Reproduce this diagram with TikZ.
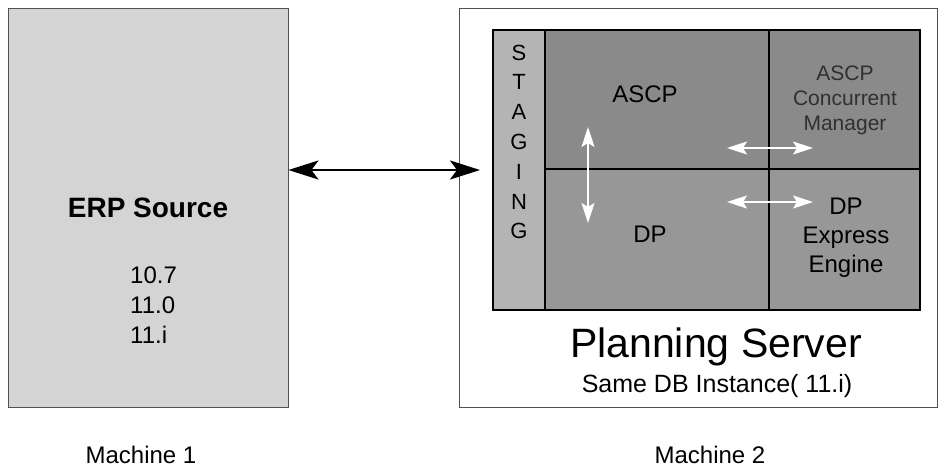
\documentclass[tikz,border=0pt]{standalone}
\usepackage{fontspec}
\setmainfont{Liberation Sans}
\usetikzlibrary{arrows.meta}
\definecolor{srcfill}{HTML}{D4D4D4}
\definecolor{stgfill}{HTML}{B4B4B4}
\definecolor{darkcell}{HTML}{8A8A8A}
\definecolor{lightcell}{HTML}{979797}
\definecolor{boxedge}{HTML}{505050}
\definecolor{cmtext}{HTML}{303030}
\tikzset{
    srcbox/.style={draw=boxedge, line width=.8pt, fill=srcfill, inner sep=0pt},
    srvbox/.style={draw=boxedge, line width=.8pt, fill=white, inner sep=0pt},
    cell/.style={draw=black, line width=2.6pt, inner sep=0pt},
    lbl/.style={inner sep=0pt, anchor=base, font=\fontsize{24}{29}\selectfont},
    bigarrow/.style={line width=2.6pt,
        {Stealth[length=30pt, width=19pt, inset=7pt]}-{Stealth[length=30pt, width=19pt, inset=7pt]}},
    wharrow/.style={white, line width=1.3pt,
        {Stealth[length=20pt, width=13pt, inset=4pt]}-{Stealth[length=20pt, width=13pt, inset=4pt]}},
}

\begin{document}
\begin{tikzpicture}[x=1pt, y=-1pt]
    \useasboundingbox (0, 0) rectangle (942, 469);

    \node[srcbox, minimum width=280, minimum height=399] (src) at (148, 207.5) {}; % Machine 1
    \node[srvbox, minimum width=478, minimum height=399] (srv) at (698, 207.5) {}; % Machine 2

    \node[lbl, font=\bfseries\fontsize{28}{34}\selectfont] (erp) at (148, 217) {ERP Source};
    \foreach \v [count=\k] in {10.7, 11.0, 11.i}
        \node[lbl, anchor=base west] (ver\k) at (130, {253 + 30*\k}) {\v}; % Releases

    % Planning server grid
    \node[cell, fill=stgfill, minimum width=52, minimum height=280] (stg) at (519, 170) {};
    \node[cell, fill=darkcell, minimum width=224, minimum height=139] (ascp) at (657, 99.5) {};
    \node[cell, fill=lightcell, minimum width=224, minimum height=141] (dp) at (657, 239.5) {};
    \node[cell, fill=darkcell, minimum width=151, minimum height=139] (cm) at (844.5, 99.5) {};
    \node[cell, fill=lightcell, minimum width=151, minimum height=141] (dpx) at (844.5, 239.5) {};

    \foreach \ch [count=\k] in {S, T, A, G, I, N, G}
        \node[lbl, font=\fontsize{22}{26}\selectfont] (stg\k) at (519, {60 + 29.8*(\k-1)}) {\ch};

    \node[lbl] (ascptxt) at (645, 102) {ASCP};
    \node[lbl] (dptxt) at (650, 242) {DP};
    \foreach \t [count=\k] in {ASCP, Concurrent, Manager}
        \node[lbl, text=cmtext, font=\fontsize{21}{25}\selectfont] (cm\k) at (845, {80 + 25*(\k-1)}) {\t};
    \foreach \t [count=\k] in {DP, Express, Engine}
        \node[lbl] (dpx\k) at (846, {214 + 29*(\k-1)}) {\t};

    \node[lbl, font=\fontsize{41}{49}\selectfont] (plan) at (716, 357) {Planning Server};
    \node[lbl, font=\fontsize{25}{30}\selectfont] (inst) at (717, 392) {Same DB Instance( 11.i)};

    \node[lbl] (mach1) at (141, 463) {Machine 1};
    \node[lbl] (mach2) at (710, 463) {Machine 2};

    % Connectors
    \coordinate (linkend) at (480, 170);
    \draw[bigarrow] (src.east |- linkend) -- (linkend); % ERP <-> staging

    \coordinate (vtop) at (588, 127);
    \coordinate (vbot) at (588, 223);
    \coordinate (htopl) at (727, 148);
    \coordinate (htopr) at (813, 148);
    \coordinate (hbotl) at (727, 202);
    \coordinate (hbotr) at (813, 202);
    \draw[wharrow] (vtop) -- (vbot); % ASCP <-> DP
    \draw[wharrow] (htopl) -- (htopr); % ASCP <-> manager
    \draw[wharrow] (hbotl) -- (hbotr); % DP <-> engine
\end{tikzpicture}
\end{document}
